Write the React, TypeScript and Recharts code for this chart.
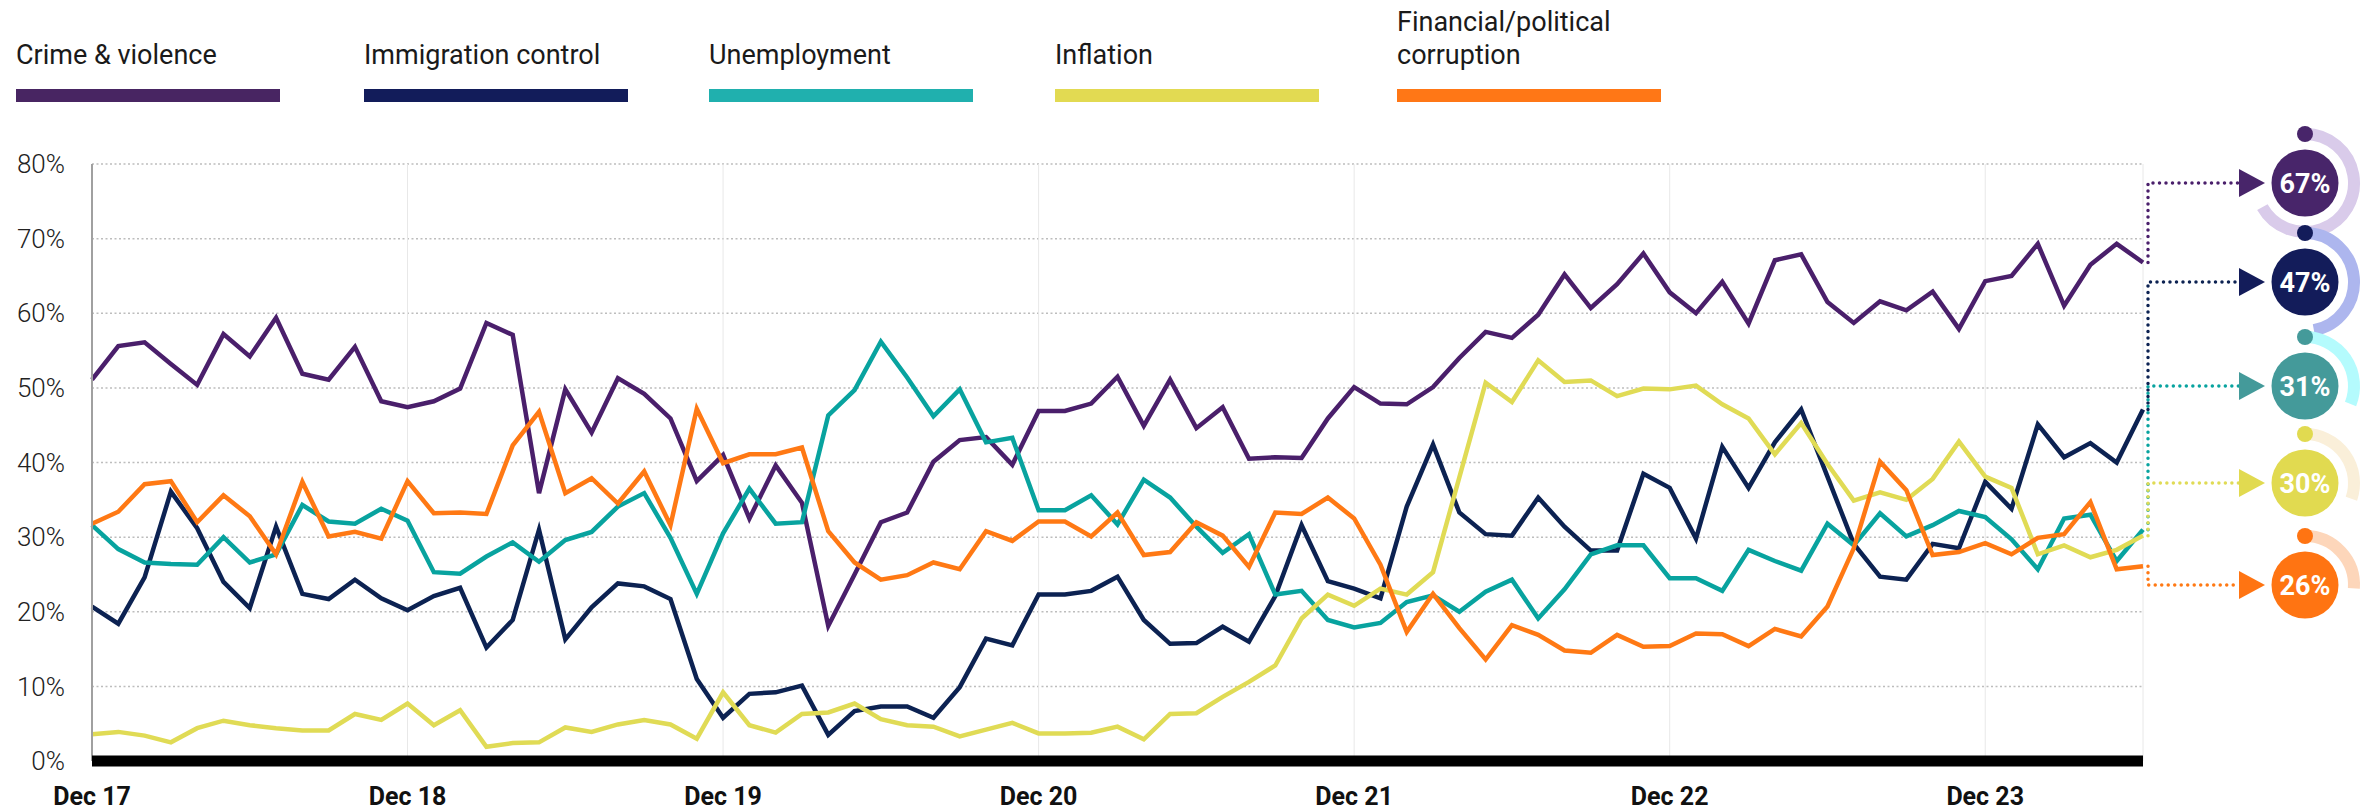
import React from 'react';
import { LineChart, Line, XAxis, YAxis, CartesianGrid } from 'recharts';

// monthly share of people naming each issue, Dec 17 .. Jun 24
const monthNames = ['Dec', 'Jan', 'Feb', 'Mar', 'Apr', 'May', 'Jun', 'Jul', 'Aug', 'Sep', 'Oct', 'Nov'];
const months: string[] = [];
for (let i = 0; i < 79; i++) {
  months.push(`${monthNames[i % 12]} ${17 + Math.floor((i + 11) / 12)}`);
}

const yTicks = [0, 10, 20, 30, 40, 50, 60, 70, 80];

const crime = [
  51.1, 55.6, 56.1, 53.2, 50.4, 57.2, 54.2, 59.4, 51.9, 51.1, 55.5, 48.2,
  47.4, 48.2, 49.9, 58.7, 57.1, 35.9, 49.8, 44.0, 51.3, 49.2, 45.9, 37.5,
  41.0, 32.5, 39.6, 34.6, 18.1, 25.0, 32.0, 33.3, 40.1, 43.0, 43.4, 39.7,
  46.9, 46.9, 47.9, 51.5, 44.9, 51.1, 44.6, 47.4, 40.5, 40.7, 40.6, 45.9,
  50.1, 47.9, 47.8, 50.1, 54.0, 57.5, 56.7, 59.8, 65.2, 60.7, 63.9, 68.0,
  62.8, 60.0, 64.2, 58.6, 67.1, 67.9, 61.5, 58.7, 61.6, 60.4, 62.9, 57.9,
  64.3, 65.0, 69.3, 61.0, 66.5, 69.3, 66.8,
];

const immigration = [
  20.7, 18.4, 24.6, 36.1, 31.2, 24.0, 20.5, 31.4, 22.4, 21.7, 24.3, 21.8,
  20.2, 22.1, 23.2, 15.2, 18.9, 31.0, 16.3, 20.6, 23.8, 23.4, 21.7, 11.0,
  5.8, 9.0, 9.2, 10.1, 3.5, 6.7, 7.3, 7.3, 5.8, 9.9, 16.4, 15.5,
  22.3, 22.3, 22.8, 24.7, 18.9, 15.7, 15.8, 18.0, 16.0, 22.1, 31.6, 24.1,
  23.1, 21.8, 34.1, 42.4, 33.3, 30.4, 30.2, 35.3, 31.4, 28.2, 28.2, 38.5,
  36.6, 29.8, 42.1, 36.6, 42.7, 47.1, 38.1, 29.1, 24.7, 24.3, 29.1, 28.5,
  37.4, 33.8, 45.1, 40.7, 42.6, 40.0, 47.1,
];

const unemployment = [
  31.6, 28.4, 26.6, 26.4, 26.3, 30.0, 26.6, 27.7, 34.3, 32.1, 31.8, 33.8,
  32.2, 25.3, 25.1, 27.4, 29.3, 26.7, 29.6, 30.7, 34.1, 35.9, 29.9, 22.4,
  30.5, 36.5, 31.8, 32.0, 46.3, 49.7, 56.2, 51.4, 46.2, 49.8, 42.7, 43.3,
  33.6, 33.6, 35.6, 31.7, 37.7, 35.3, 31.4, 27.9, 30.4, 22.3, 22.8, 18.9,
  17.9, 18.5, 21.3, 22.2, 20.0, 22.7, 24.3, 19.1, 23.0, 27.7, 28.9, 28.9,
  24.5, 24.5, 22.8, 28.3, 26.8, 25.5, 31.8, 28.9, 33.2, 30.1, 31.6, 33.5,
  32.7, 29.7, 25.7, 32.5, 33.0, 26.8, 31.0,
];

const inflation = [
  3.6, 3.9, 3.4, 2.5, 4.4, 5.4, 4.8, 4.4, 4.1, 4.1, 6.3, 5.5,
  7.7, 4.8, 6.8, 1.9, 2.4, 2.5, 4.5, 3.9, 4.9, 5.5, 4.9, 3.0,
  9.2, 4.8, 3.8, 6.3, 6.5, 7.7, 5.6, 4.8, 4.6, 3.3, 4.2, 5.1,
  3.7, 3.7, 3.8, 4.6, 2.9, 6.3, 6.4, 8.6, 10.6, 12.8, 19.1, 22.3,
  20.8, 23.1, 22.3, 25.3, 38.0, 50.7, 48.1, 53.7, 50.8, 51.0, 48.9, 49.9,
  49.8, 50.3, 47.8, 45.9, 41.1, 45.3, 39.8, 34.9, 36.0, 35.0, 37.8, 42.8,
  38.1, 36.6, 27.7, 28.9, 27.3, 28.3, 30.2,
];

const corruption = [
  31.8, 33.4, 37.1, 37.5, 32.0, 35.6, 32.8, 27.7, 37.4, 30.1, 30.7, 29.8,
  37.5, 33.2, 33.3, 33.1, 42.3, 46.8, 35.9, 37.9, 34.5, 38.8, 31.6, 47.2,
  39.9, 41.1, 41.1, 42.0, 30.8, 26.6, 24.3, 24.9, 26.6, 25.7, 30.8, 29.5,
  32.1, 32.1, 30.1, 33.3, 27.6, 28.0, 32.0, 30.2, 26.0, 33.3, 33.1, 35.3,
  32.5, 26.3, 17.3, 22.4, 17.8, 13.6, 18.2, 16.9, 14.8, 14.5, 16.9, 15.3,
  15.4, 17.1, 17.0, 15.4, 17.7, 16.7, 20.7, 28.5, 40.1, 36.3, 27.6, 28.0,
  29.2, 27.7, 29.9, 30.4, 34.7, 25.7, 26.1,
];

const series = [
  { key: 'crime', name: 'Crime & violence', values: crime, color: '#4a1f6b', legend: '#482562', badge: '#48256a', ring: '#d9cbea' },
  { key: 'immigration', name: 'Immigration control', values: immigration, color: '#0c2252', legend: '#121c5a', badge: '#131c5a', ring: '#adb6ee' },
  { key: 'unemployment', name: 'Unemployment', values: unemployment, color: '#08a39f', legend: '#20b0ae', badge: '#449a9a', ring: '#b4fbfd' },
  { key: 'inflation', name: 'Inflation', values: inflation, color: '#e0db55', legend: '#e2da52', badge: '#e1da50', ring: '#faefd9' },
  { key: 'corruption', name: 'Financial/political corruption', values: corruption, color: '#ff7914', legend: '#ff7716', badge: '#ff7412', ring: '#fdd6ba' },
];

const data = months.map((m, i) => {
  const row: Record<string, number | string> = { i, month: m };
  series.forEach((s) => (row[s.key] = s.values[i]));
  return row;
});

const xTicks = months.map((m, i) => (m.startsWith('Dec') ? i : -1)).filter((i) => i >= 0);
const last = months.length - 1;

// badge layout on the right
const badgeX = 2305;
const badgeY = [183, 282, 386, 483, 585];
const arrowX = 2239;

const font = 'Roboto, "Open Sans", sans-serif';

function arcPath(cx: number, cy: number, r: number, frac: number) {
  const a = Math.min(frac, 0.999) * Math.PI * 2;
  const x = cx + r * Math.sin(a);
  const y = cy - r * Math.cos(a);
  return `M ${cx} ${cy - r} A ${r} ${r} 0 ${a > Math.PI ? 1 : 0} 1 ${x} ${y}`;
}

const endMarker = (s: (typeof series)[number], k: number) => (props: any) => {
  const { cx, cy, index } = props;
  if (index !== last || cx == null) return <g key={`${s.key}-${index}`} />;
  const by = badgeY[k];
  const v = s.values[last];
  return (
    <g key={`${s.key}-end`}>
      <path
        d={`M ${cx + 5} ${cy} V ${by} H ${arrowX}`}
        fill="none"
        stroke={s.color}
        strokeWidth={3.5}
        strokeDasharray="0 6.5"
        strokeLinecap="round"
      />
      <polygon points={`${arrowX},${by - 14} ${arrowX + 26},${by} ${arrowX},${by + 14}`} fill={s.badge} />
      <path d={arcPath(badgeX, by, 49, v / 100)} fill="none" stroke={s.ring} strokeWidth={12} />
      <circle cx={badgeX} cy={by - 49} r={8} fill={s.badge} />
      <circle cx={badgeX} cy={by} r={33.5} fill={s.badge} />
      <text
        x={badgeX}
        y={by}
        dy="0.36em"
        textAnchor="middle"
        fill="#fff"
        fontFamily={font}
        fontWeight={700}
        fontSize={27}
      >
        {`${Math.round(v)}%`}
      </text>
    </g>
  );
};

export default function App() {
  return (
    <div style={{ position: 'absolute', left: 0, top: 0, width: 2380, height: 812, background: '#fff' }}>
      {series.map((s, k) => (
        <div
          key={s.key}
          style={{
            position: 'absolute',
            left: [16, 364, 709, 1055, 1397][k],
            top: 0,
            width: 264,
            height: 102,
            display: 'flex',
            flexDirection: 'column',
            justifyContent: 'flex-end',
            fontFamily: font,
          }}
        >
          <div style={{ fontSize: 27, lineHeight: '33px', color: '#1a1a1a', width: k === 4 ? 230 : 264 }}>{s.name}</div>
          <div style={{ marginTop: 17, height: 13, background: s.legend }} />
        </div>
      ))}
      <LineChart
        width={2380}
        height={812}
        data={data}
        margin={{ top: 164, right: 237, bottom: 0, left: 0 }}
      >
        <CartesianGrid vertical={false} stroke="#bdbdbd" strokeWidth={1.5} strokeDasharray="2 2.5" />
        <CartesianGrid horizontal={false} stroke="#e8e8e8" strokeWidth={1} />
        <YAxis
          domain={[0, 80]}
          ticks={yTicks}
          width={92}
          tickSize={0}
          tickMargin={27}
          tickFormatter={(v) => `${v}%`}
          axisLine={{ stroke: '#a0a0a0', strokeWidth: 2 }}
          tickLine={false}
          tick={{ fontFamily: font, fontSize: 26, fontWeight: 300, fill: '#222' }}
        />
        <XAxis
          dataKey="i"
          type="number"
          domain={[0, last]}
          ticks={xTicks}
          interval={0}
          height={51}
          tickSize={0}
          tickMargin={26}
          tickFormatter={(v) => months[v]}
          axisLine={{ stroke: '#000', strokeWidth: 11 }}
          tickLine={false}
          tick={{ fontFamily: font, fontSize: 25, fontWeight: 700, fill: '#111' }}
        />
        {series.map((s, k) => (
          <Line
            key={s.key}
            dataKey={s.key}
            name={s.name}
            type="linear"
            stroke={s.color}
            strokeWidth={4.5}
            dot={endMarker(s, k)}
            activeDot={false}
            isAnimationActive={false}
          />
        ))}
      </LineChart>
    </div>
  );
}
